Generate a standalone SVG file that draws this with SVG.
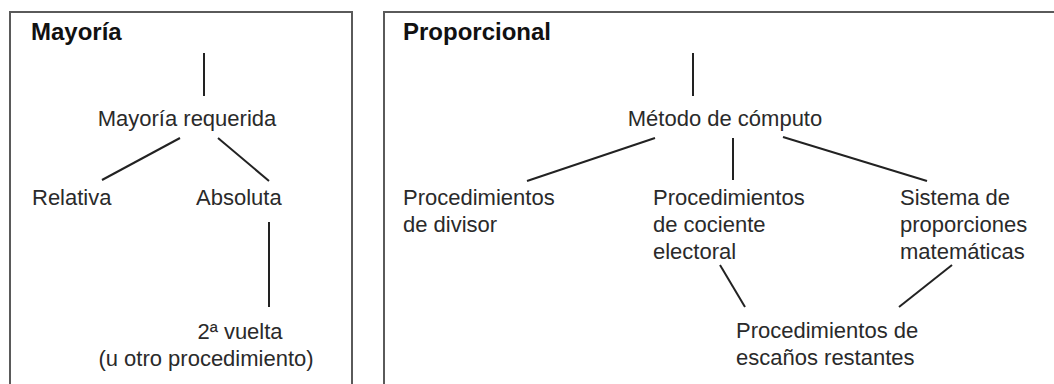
<svg xmlns="http://www.w3.org/2000/svg" width="1054" height="384" viewBox="0 0 1054 384">
<style>
.frame{fill:none;stroke:#5a5a5a;stroke-width:2}
.t{font-family:"Liberation Sans",Arial,sans-serif;font-size:22px;fill:#2a2a2a}
.h{font-family:"Liberation Sans",Arial,sans-serif;font-size:24px;font-weight:bold;fill:#111}
.c line{stroke:#222;stroke-width:2}
</style>
<rect width="1054" height="384" fill="#fff"/>
<g id="panel-mayoria">
<path class="frame" d="M10,390 V12 H352 V390"/>
<text class="h" x="31" y="40">Mayoría</text>
</g>
<g id="panel-proporcional">
<path class="frame" d="M384,390 V12 H1060"/>
<text class="h" x="403" y="40">Proporcional</text>
</g>
<g id="n-mayoria-requerida"><text class="t" x="187" y="126" text-anchor="middle">Mayoría requerida</text></g>
<g id="n-relativa"><text class="t" x="32" y="205">Relativa</text></g>
<g id="n-absoluta"><text class="t" x="196" y="205">Absoluta</text></g>
<g id="n-segunda-vuelta"><text class="t" x="206" y="339" text-anchor="middle"><tspan x="240">2ª vuelta</tspan><tspan x="206" y="366">(u otro procedimiento)</tspan></text></g>
<g id="n-metodo"><text class="t" x="725" y="126" text-anchor="middle">Método de cómputo</text></g>
<g id="n-divisor"><text class="t" x="403" y="205">Procedimientos<tspan x="403" y="232">de divisor</tspan></text></g>
<g id="n-cociente"><text class="t" x="653" y="205">Procedimientos<tspan x="653" y="232">de cociente</tspan><tspan x="653" y="259">electoral</tspan></text></g>
<g id="n-sistema"><text class="t" x="900" y="205">Sistema de<tspan x="900" y="232">proporciones</tspan><tspan x="900" y="259">matemáticas</tspan></text></g>
<g id="n-restantes"><text class="t" x="736" y="338">Procedimientos de<tspan x="736" y="365">escaños restantes</tspan></text></g>
<g id="connectors" class="c">
<line x1="204" y1="53" x2="204" y2="96"/>
<line x1="180" y1="138" x2="102" y2="180"/>
<line x1="218" y1="138" x2="269" y2="181"/>
<line x1="269" y1="222" x2="269" y2="307"/>
<line x1="693" y1="53" x2="693" y2="96"/>
<line x1="655" y1="138" x2="527" y2="181"/>
<line x1="733" y1="138" x2="733" y2="180"/>
<line x1="783" y1="137" x2="927" y2="181"/>
<line x1="720" y1="265" x2="745" y2="307"/>
<line x1="952" y1="265" x2="899" y2="307"/>
</g>
</svg>
